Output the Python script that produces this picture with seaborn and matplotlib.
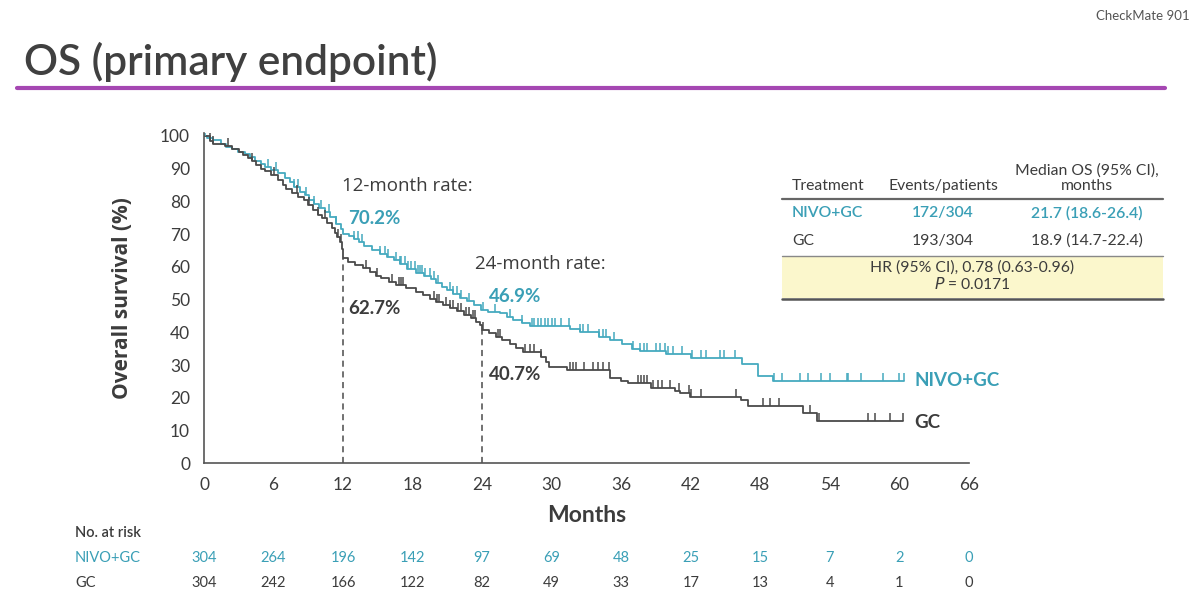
import numpy as np
import pandas as pd
import matplotlib
matplotlib.use("Agg")
import matplotlib.pyplot as plt
from matplotlib.patches import Rectangle
from matplotlib.lines import Line2D
import seaborn as sns

# ---------------- data ----------------
arms = ["NIVO+GC", "GC"]

nivo_time = [0, 0.3, 0.8, 1.5, 1.9, 2.4, 2.9, 3.5, 4.0, 4.4, 4.9, 5.3, 5.8, 6.4, 7.0,
             7.4, 7.8, 8.3, 8.7, 9.1, 9.5, 9.9, 10.4, 10.9, 11.4, 11.8, 12.0, 12.5, 12.9,
             13.4, 13.8, 14.5, 15.2, 15.8, 16.4, 16.9, 17.5, 18.3, 19.0, 19.6, 20.0, 20.5,
             21.0, 21.5, 22.1, 22.7, 23.3, 23.9, 24.5, 25.5, 26.1, 26.7, 27.4, 28.1, 31.6,
             32.4, 34.1, 35.0, 36.1, 36.9, 37.6, 39.9, 42.0, 46.4, 47.8, 49.1, 60.4]
nivo_surv = [100, 99.3, 98.8, 97.7, 96.6, 96.0, 95.2, 94.5, 93.5, 92.5, 91.5, 90.5, 89.6,
             88.8, 87.3, 86.0, 84.5, 83.0, 82.0, 80.5, 79.3, 78.0, 76.7, 75.3, 73.0, 71.5,
             70.2, 69.3, 68.5, 67.5, 66.5, 65.3, 64.0, 63.0, 62.0, 60.8, 59.5, 58.2, 57.2,
             56.2, 55.2, 54.0, 52.8, 51.8, 50.6, 49.6, 48.4, 46.9, 46.3, 45.8, 44.8, 43.8,
             42.8, 42.0, 41.0, 40.0, 38.7, 37.8, 36.3, 35.0, 34.2, 33.5, 32.3, 30.2, 26.7,
             25.0, 25.0]

gc_time = [0, 0.5, 0.8, 1.8, 2.4, 3.0, 3.4, 3.8, 4.1, 4.5, 4.9, 5.3, 5.8, 6.4, 6.8, 7.1,
           7.6, 8.1, 8.6, 9.0, 9.4, 9.8, 10.2, 10.6, 11.0, 11.3, 11.5, 11.7, 11.9, 12.0,
           12.4, 13.0, 13.7, 14.3, 14.8, 15.3, 16.0, 16.6, 17.4, 18.3, 18.9, 19.5, 20.0,
           20.6, 21.2, 21.8, 22.4, 23.0, 23.5, 23.8, 24.0, 24.6, 25.2, 25.7, 26.4, 26.9,
           27.5, 29.1, 29.5, 29.8, 31.3, 35.0, 36.0, 36.6, 38.6, 40.6, 41.1, 41.9, 46.3,
           46.9, 51.7, 52.9, 60.3]
gc_surv = [100, 98.6, 97.7, 96.9, 96.0, 95.0, 94.3, 93.2, 92.4, 91.2, 90.0, 89.2, 88.0,
           86.6, 85.0, 83.8, 82.6, 81.5, 80.3, 79.0, 77.5, 76.0, 74.8, 73.5, 72.0, 70.5,
           69.0, 67.5, 65.5, 62.7, 61.6, 60.6, 59.6, 58.4, 57.3, 56.5, 55.5, 54.5, 53.6,
           52.3, 51.3, 50.2, 49.4, 48.4, 47.5, 46.4, 45.4, 44.3, 43.2, 42.2, 40.7, 39.8,
           38.6, 37.6, 36.3, 35.3, 34.0, 32.6, 31.0, 29.5, 28.5, 26.0, 25.0, 24.4, 23.0,
           22.2, 21.4, 20.3, 19.2, 17.6, 15.4, 12.9, 12.9]

nivo_censor = [0.1, 5.5, 6.2, 7.8, 8.1, 8.8, 9.5, 10.1, 10.8, 11.4, 12.9, 13.3, 13.6, 15.2,
               15.6, 15.9, 16.6, 16.9, 17.0, 17.3, 17.6, 17.9, 18.2, 18.5, 18.6, 18.8, 19.1,
               19.5, 19.8, 20.2, 21.2, 21.5, 21.8, 22.2, 22.9, 24.1, 25.1, 26.4, 27.4, 28.3,
               28.5, 28.8, 29.1, 29.4, 29.7, 30.0, 30.3, 30.8, 31.5, 32.4, 32.7, 33.1, 34.1,
               34.4, 34.7, 35.4, 37.0, 37.6, 38.0, 38.2, 39.0, 39.3, 39.8, 40.0, 40.5, 41.2,
               42.1, 42.9, 43.3, 44.5, 44.9, 45.8, 49.2, 49.9, 51.4, 52.1, 53.2, 54.0, 55.5,
               55.6, 56.7, 58.6, 60.0, 60.4]
gc_censor = [0.5, 0.8, 2.1, 4.1, 6.0, 8.0, 9.1, 9.8, 10.4, 11.55, 11.85, 14.0, 14.9, 16.2,
             16.8, 17.0, 17.2, 19.8, 20.1, 20.3, 20.9, 21.2, 21.5, 21.9, 22.2, 22.6, 22.9,
             23.2, 23.4, 24.1, 25.4, 25.5, 27.7, 28.1, 28.5, 29.1, 31.6, 31.8, 32.1, 32.8,
             33.6, 34.0, 34.4, 34.9, 37.4, 37.7, 38.0, 38.2, 38.7, 39.2, 39.5, 40.2, 41.0,
             41.8, 42.0, 42.9, 45.9, 48.2, 48.8, 49.6, 52.3, 53.1, 57.3, 57.9, 59.2, 60.3]

month_ticks = [0, 6, 12, 18, 24, 30, 36, 42, 48, 54, 60, 66]
y_ticks = [0, 10, 20, 30, 40, 50, 60, 70, 80, 90, 100]
at_risk_nivo = [304, 264, 196, 142, 97, 69, 48, 25, 15, 7, 2, 0]
at_risk_gc = [304, 242, 166, 122, 82, 49, 33, 17, 13, 4, 1, 0]

landmarks = [12, 24]
rate_nivo = [70.2, 46.9]
rate_gc = [62.7, 40.7]

table_rows = [("NIVO+GC", "172/304", "21.7 (18.6-26.4)"),
              ("GC", "193/304", "18.9 (14.7-22.4)")]

assert len(nivo_time) == len(nivo_surv) and len(gc_time) == len(gc_surv)

# ---------------- style ----------------
TEAL = "#45AABF"
TEAL_TXT = "#3A9FB6"
DARK = "#4A4A4A"
TXT = "#3C3C3C"
PURPLE = "#A547B2"
WIDE = ["Open Sans", "DejaVu Sans"]

sns.set_theme(style="white")
plt.rcParams["font.family"] = ["Lato", "DejaVu Sans"]

W, H = 1200, 615
fig = plt.figure(figsize=(W / 100, H / 100), dpi=100)
fig.patch.set_facecolor("white")


def fx(x):
    return x / W


def fy(y):
    return 1 - y / H


# main axes : x 0..66 -> px 204..969 ; y 0..100 -> px 463.3..136
y_top = 100.8
ax_left, ax_right = 204, 969
ax_bot = 463.3
ax_top = ax_bot - 3.273 * y_top
ax = fig.add_axes([fx(ax_left), fy(ax_bot), (ax_right - ax_left) / W, (ax_bot - ax_top) / H])

df = pd.concat([
    pd.DataFrame({"time": nivo_time, "surv": nivo_surv, "arm": arms[0]}),
    pd.DataFrame({"time": gc_time, "surv": gc_surv, "arm": arms[1]}),
])
sns.lineplot(data=df, x="time", y="surv", hue="arm", palette={arms[0]: TEAL, arms[1]: DARK},
             estimator=None, sort=False, drawstyle="steps-post", linewidth=1.3,
             legend=False, ax=ax)


def step_value(times, survs, c):
    idx = np.searchsorted(np.asarray(times), np.asarray(c), side="right") - 1
    return np.asarray(survs)[idx]


for cens, t, s, col in [(nivo_censor, nivo_time, nivo_surv, TEAL),
                        (gc_censor, gc_time, gc_surv, DARK)]:
    ax.plot(cens, step_value(t, s, cens), linestyle="none", marker=2, markersize=5.5,
            markeredgewidth=1.1, color=col)

# landmark dashed lines
for lm, g in zip(landmarks, rate_gc):
    ax.plot([lm, lm], [0, g], linestyle=(0, (4, 3)), color=DARK, linewidth=1.1)

ax.set_xlim(0, 66)
ax.set_ylim(0, y_top)
ax.set_xticks(month_ticks)
ax.set_yticks(y_ticks)
ax.tick_params(axis="both", direction="out", length=7, width=1.1, color="#555555",
               labelsize=12.5, labelcolor=TXT, pad=3)
for sp in ["top", "right"]:
    ax.spines[sp].set_visible(False)
for sp in ["left", "bottom"]:
    ax.spines[sp].set_color("#555555")
    ax.spines[sp].set_linewidth(1.2)
ax.set_xlabel("")
ax.set_ylabel("")
ax.patch.set_alpha(0)

# axis titles
fig.text(fx(122), fy(298), "Overall survival (%)", rotation=90, ha="center", va="center",
         fontsize=15, fontweight="bold", color=TXT, family=WIDE)
fig.text(fx(587), fy(516), "Months", ha="center", va="center", fontsize=16.5,
         fontweight="bold", color=TXT)

# annotations
fig.text(fx(342), fy(186), "12-month rate:", ha="left", va="center", fontsize=13.5,
         color=TXT, family=WIDE)
fig.text(fx(348), fy(219), f"{rate_nivo[0]}%", ha="left", va="center", fontsize=13.5,
         fontweight="bold", color=TEAL_TXT)
fig.text(fx(348), fy(309), f"{rate_gc[0]}%", ha="left", va="center", fontsize=13.5,
         fontweight="bold", color=TXT)
fig.text(fx(475), fy(264), "24-month rate:", ha="left", va="center", fontsize=13.5,
         color=TXT, family=WIDE)
fig.text(fx(489), fy(297), f"{rate_nivo[1]}%", ha="left", va="center", fontsize=13.5,
         fontweight="bold", color=TEAL_TXT)
fig.text(fx(489), fy(374), f"{rate_gc[1]}%", ha="left", va="center", fontsize=13.5,
         fontweight="bold", color=TXT)
fig.text(fx(914), fy(381), arms[0], ha="left", va="center", fontsize=13.5,
         fontweight="bold", color=TEAL_TXT)
fig.text(fx(914), fy(422), arms[1], ha="left", va="center", fontsize=13.5,
         fontweight="bold", color=TXT)

# title block
fig.text(fx(24), fy(62), "OS (primary endpoint)", ha="left", va="center", fontsize=30.5,
         color="#404040", fontweight="semibold")
fig.add_artist(Line2D([fx(17), fx(1165)], [fy(88), fy(88)], color=PURPLE, linewidth=3))
fig.text(fx(1190), fy(16), "CheckMate 901", ha="right", va="center", fontsize=9.5,
         color="#555555")

# results table
TFS = 11.3
tx0, tx1 = 782, 1163
fig.add_artist(Rectangle((fx(tx0), fy(298)), fx(tx1 - tx0), (298 - 256) / H,
                         facecolor="#FBF7CC", edgecolor="none"))
fig.add_artist(Line2D([fx(tx0), fx(tx1)], [fy(199), fy(199)], color="#666666", linewidth=1.6))
fig.add_artist(Line2D([fx(tx0), fx(tx1)], [fy(256), fy(256)], color="#888888", linewidth=1.0))
fig.add_artist(Line2D([fx(tx0), fx(tx1)], [fy(299), fy(299)], color="#555555", linewidth=1.8))
col_x = [792, 943, 1087]
fig.text(fx(828), fy(186), "Treatment", ha="center", va="center", fontsize=TFS, color=TXT)
fig.text(fx(col_x[1]), fy(186), "Events/patients", ha="center", va="center", fontsize=TFS,
         color=TXT)
fig.text(fx(col_x[2]), fy(178), "Median OS (95% CI),\nmonths", ha="center", va="center",
         fontsize=TFS, color=TXT, linespacing=1.1)
for (name, ev, med), yy, col in zip(table_rows, [213, 241], [TEAL_TXT, TXT]):
    fw = "semibold" if col == TEAL_TXT else "normal"
    fig.text(fx(col_x[0]), fy(yy), name, ha="left", va="center", fontsize=TFS, color=col,
             fontweight=fw)
    fig.text(fx(col_x[1]), fy(yy), ev, ha="center", va="center", fontsize=TFS, color=col,
             fontweight=fw)
    fig.text(fx(col_x[2]), fy(yy), med, ha="center", va="center", fontsize=TFS, color=col,
             fontweight=fw)
fig.text(fx(972), fy(268), "HR (95% CI), 0.78 (0.63-0.96)", ha="center", va="center",
         fontsize=TFS, color=TXT)
fig.text(fx(972), fy(284), "$\\it{P}$ = 0.0171", ha="center", va="center", fontsize=TFS,
         color=TXT)

# at-risk table
fig.text(fx(75), fy(533), "No. at risk", ha="left", va="center", fontsize=10.5,
         fontweight="semibold", color=TXT)
trans = matplotlib.transforms.blended_transform_factory(ax.transData, fig.transFigure)
for label, vals, yy, col in [(arms[0], at_risk_nivo, 558, TEAL_TXT),
                             (arms[1], at_risk_gc, 583, TXT)]:
    fig.text(fx(75), fy(yy), label, ha="left", va="center", fontsize=10.5, color=col)
    for m, v in zip(month_ticks, vals):
        ax.text(m, fy(yy), str(v), transform=trans, ha="center", va="center",
                fontsize=10.5, color=col, clip_on=False)

fig.savefig("out.png", dpi=100, facecolor="white")
